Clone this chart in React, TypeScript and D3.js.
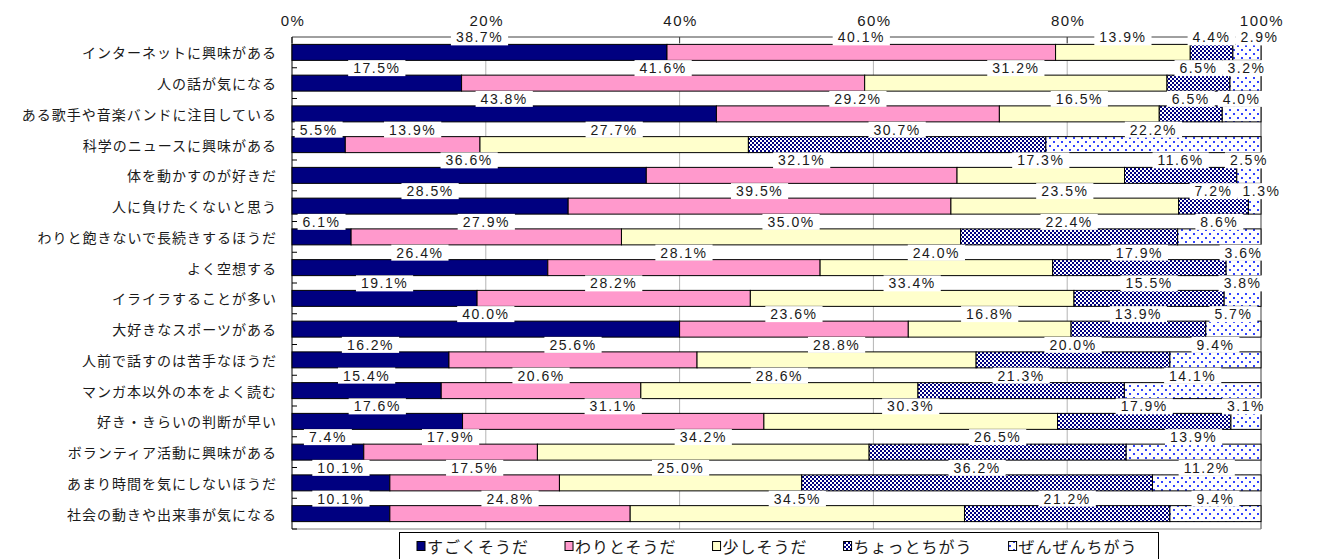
import React, { useEffect, useRef } from 'react';
import * as d3 from 'd3';

const categories = [
  'インターネットに興味がある',
  '人の話が気になる',
  'ある歌手や音楽バンドに注目している',
  '科学のニュースに興味がある',
  '体を動かすのが好きだ',
  '人に負けたくないと思う',
  'わりと飽きないで長続きするほうだ',
  'よく空想する',
  'イライラすることが多い',
  '大好きなスポーツがある',
  '人前で話すのは苦手なほうだ',
  'マンガ本以外の本をよく読む',
  '好き・きらいの判断が早い',
  'ボランティア活動に興味がある',
  'あまり時間を気にしないほうだ',
  '社会の動きや出来事が気になる',
];

const seriesNames = ['すごくそうだ', 'わりとそうだ', '少しそうだ', 'ちょっとちがう', 'ぜんぜんちがう'];

const sugoku = [38.7, 17.5, 43.8, 5.5, 36.6, 28.5, 6.1, 26.4, 19.1, 40.0, 16.2, 15.4, 17.6, 7.4, 10.1, 10.1];
const warito = [40.1, 41.6, 29.2, 13.9, 32.1, 39.5, 27.9, 28.1, 28.2, 23.6, 25.6, 20.6, 31.1, 17.9, 17.5, 24.8];
const sukoshi = [13.9, 31.2, 16.5, 27.7, 17.3, 23.5, 35.0, 24.0, 33.4, 16.8, 28.8, 28.6, 30.3, 34.2, 25.0, 34.5];
const chotto = [4.4, 6.5, 6.5, 30.7, 11.6, 7.2, 22.4, 17.9, 15.5, 13.9, 20.0, 21.3, 17.9, 26.5, 36.2, 21.2];
const zenzen = [2.9, 3.2, 4.0, 22.2, 2.5, 1.3, 8.6, 3.6, 3.8, 5.7, 9.4, 14.1, 3.1, 13.9, 11.2, 9.4];

const xTicks = [0, 20, 40, 60, 80, 100];

const FONT = '"Liberation Sans", Arial, "Noto Sans CJK JP", sans-serif';
const JFONT = '"Noto Sans CJK JP", "Liberation Sans", sans-serif';

export default function App() {
  const svgRef = useRef<SVGSVGElement>(null);

  useEffect(() => {
    const W = 1323, H = 559;
    const left = 292, right = 1261, top = 37, bottom = 529;

    const svg = d3.select(svgRef.current);
    svg.selectAll('*').remove();

    // patterns
    const defs = svg.append('defs');
    const checker = defs.append('pattern').attr('id', 'checker')
      .attr('patternUnits', 'userSpaceOnUse').attr('width', 4).attr('height', 4);
    checker.append('rect').attr('width', 4).attr('height', 4).attr('fill', '#000080');
    checker.append('rect').attr('width', 2).attr('height', 2).attr('fill', '#fff');
    checker.append('rect').attr('x', 2).attr('y', 2).attr('width', 2).attr('height', 2).attr('fill', '#fff');
    const dots = defs.append('pattern').attr('id', 'dots')
      .attr('patternUnits', 'userSpaceOnUse').attr('width', 8).attr('height', 8);
    dots.append('rect').attr('width', 8).attr('height', 8).attr('fill', '#fff');
    dots.append('rect').attr('x', 1).attr('y', 1).attr('width', 2).attr('height', 2).attr('fill', '#3344ff');
    dots.append('rect').attr('x', 5).attr('y', 5).attr('width', 2).attr('height', 2).attr('fill', '#3344ff');

    const fills = ['#000080', '#ff99cc', '#ffffcc', 'url(#checker)', 'url(#dots)'];

    const x = d3.scaleLinear().domain([0, 100]).range([left, right]);
    const y = d3.scaleBand<string>().domain(categories).range([top, bottom])
      .paddingInner(0.48).paddingOuter(0.24);

    const rows = categories.map((c, i) => {
      const vals = [sugoku[i], warito[i], sukoshi[i], chotto[i], zenzen[i]];
      const total = d3.sum(vals);
      const r: any = { cat: c };
      seriesNames.forEach((s, j) => { r[s] = (vals[j] / total) * 100; });
      r.raw = vals;
      return r;
    });
    const stacked = d3.stack<any>().keys(seriesNames)(rows);

    // gridlines
    svg.append('g').selectAll('line').data(xTicks.filter(t => t > 0)).join('line')
      .attr('x1', d => x(d)).attr('x2', d => x(d))
      .attr('y1', top).attr('y2', bottom)
      .attr('stroke', d => (d === 100 ? '#808080' : '#b4b4b4'))
      .attr('stroke-width', d => (d === 100 ? 1.5 : 1));
    svg.append('line').attr('x1', left).attr('x2', right).attr('y1', bottom).attr('y2', bottom)
      .attr('stroke', '#808080');

    // top value axis
    svg.append('line').attr('x1', left).attr('x2', right).attr('y1', top).attr('y2', top)
      .attr('stroke', '#404040');
    svg.append('g').selectAll('line').data(xTicks).join('line')
      .attr('x1', d => x(d)).attr('x2', d => x(d)).attr('y1', top).attr('y2', top + 6)
      .attr('stroke', '#404040');
    svg.append('g').selectAll('text').data(xTicks).join('text')
      .attr('x', d => x(d) + 1).attr('y', 20)
      .attr('text-anchor', 'middle').attr('dominant-baseline', 'central')
      .attr('font-family', FONT).attr('font-size', 15).attr('letter-spacing', 1.5)
      .attr('fill', '#1a1a1a')
      .text(d => `${d}%`);

    // left category axis
    svg.append('line').attr('x1', left).attr('x2', left).attr('y1', top).attr('y2', bottom)
      .attr('stroke', '#000');
    const step = y.step();
    const bounds = categories.map(c => (y(c) as number) + y.bandwidth() + (step - y.bandwidth()) / 2);
    svg.append('g').selectAll('line').data(bounds).join('line')
      .attr('x1', left).attr('x2', left + 5).attr('y1', d => d).attr('y2', d => d)
      .attr('stroke', '#000');
    svg.append('g').selectAll('text').data(categories).join('text')
      .attr('x', 277).attr('y', d => (y(d) as number) + y.bandwidth() / 2)
      .attr('text-anchor', 'end').attr('dominant-baseline', 'central')
      .attr('font-family', JFONT).attr('font-size', 14).attr('letter-spacing', 1)
      .attr('fill', '#1a1a1a')
      .text(d => d);

    // bars
    stacked.forEach((layer, j) => {
      svg.append('g').selectAll('rect').data(layer).join('rect')
        .attr('x', d => x(d[0]))
        .attr('y', d => y(d.data.cat) as number)
        .attr('width', d => x(d[1]) - x(d[0]))
        .attr('height', y.bandwidth())
        .attr('fill', fills[j])
        .attr('stroke', '#000').attr('stroke-width', 1);
    });

    // value labels, nudged right when boxes would collide
    const labelLayer = svg.append('g');
    const pad = 5;
    rows.forEach((r, i) => {
      let prevRight = -Infinity;
      stacked.forEach((layer, j) => {
        const d = layer[i];
        let cx = x((d[0] + d[1]) / 2);
        const cy = (y(r.cat) as number) - 7;
        const g = labelLayer.append('g');
        const rect = g.append('rect').attr('fill', '#fff');
        const t = g.append('text')
          .attr('text-anchor', 'middle').attr('dominant-baseline', 'central')
          .attr('font-family', FONT).attr('font-size', 14).attr('letter-spacing', 1.5)
          .attr('fill', '#1a1a1a')
          .text(`${r.raw[j].toFixed(1)}%`);
        const w = (t.node() as SVGTextElement).getComputedTextLength();
        if (cx - w / 2 - pad < prevRight) cx = prevRight + pad + w / 2;
        prevRight = cx + w / 2 + pad;
        t.attr('x', cx).attr('y', cy);
        rect.attr('x', cx - w / 2 - pad).attr('y', cy - 8).attr('width', w + pad * 2).attr('height', 16);
      });
    });

    // legend
    const lg = svg.append('g');
    lg.append('rect').attr('x', 399.5).attr('y', 532.5).attr('width', 759).attr('height', 40)
      .attr('fill', '#fff').attr('stroke', '#000');
    let lx = 417;
    seriesNames.forEach((s, j) => {
      lg.append('rect').attr('x', lx).attr('y', 541.5).attr('width', 8).attr('height', 9)
        .attr('fill', fills[j]).attr('stroke', '#000');
      const t = lg.append('text').attr('x', lx + 10).attr('y', 546)
        .attr('dominant-baseline', 'central')
        .attr('font-family', JFONT).attr('font-size', 16).attr('letter-spacing', 1)
        .attr('fill', '#1a1a1a')
        .text(s);
      const w = (t.node() as SVGTextElement).getComputedTextLength();
      lx = lx + 10 + w + 36;
    });

    svg.attr('width', W).attr('height', H);
  }, []);

  return (
    <svg ref={svgRef} width={1323} height={559}
      style={{ position: 'absolute', left: 0, top: 0, background: '#fff' }} />
  );
}
